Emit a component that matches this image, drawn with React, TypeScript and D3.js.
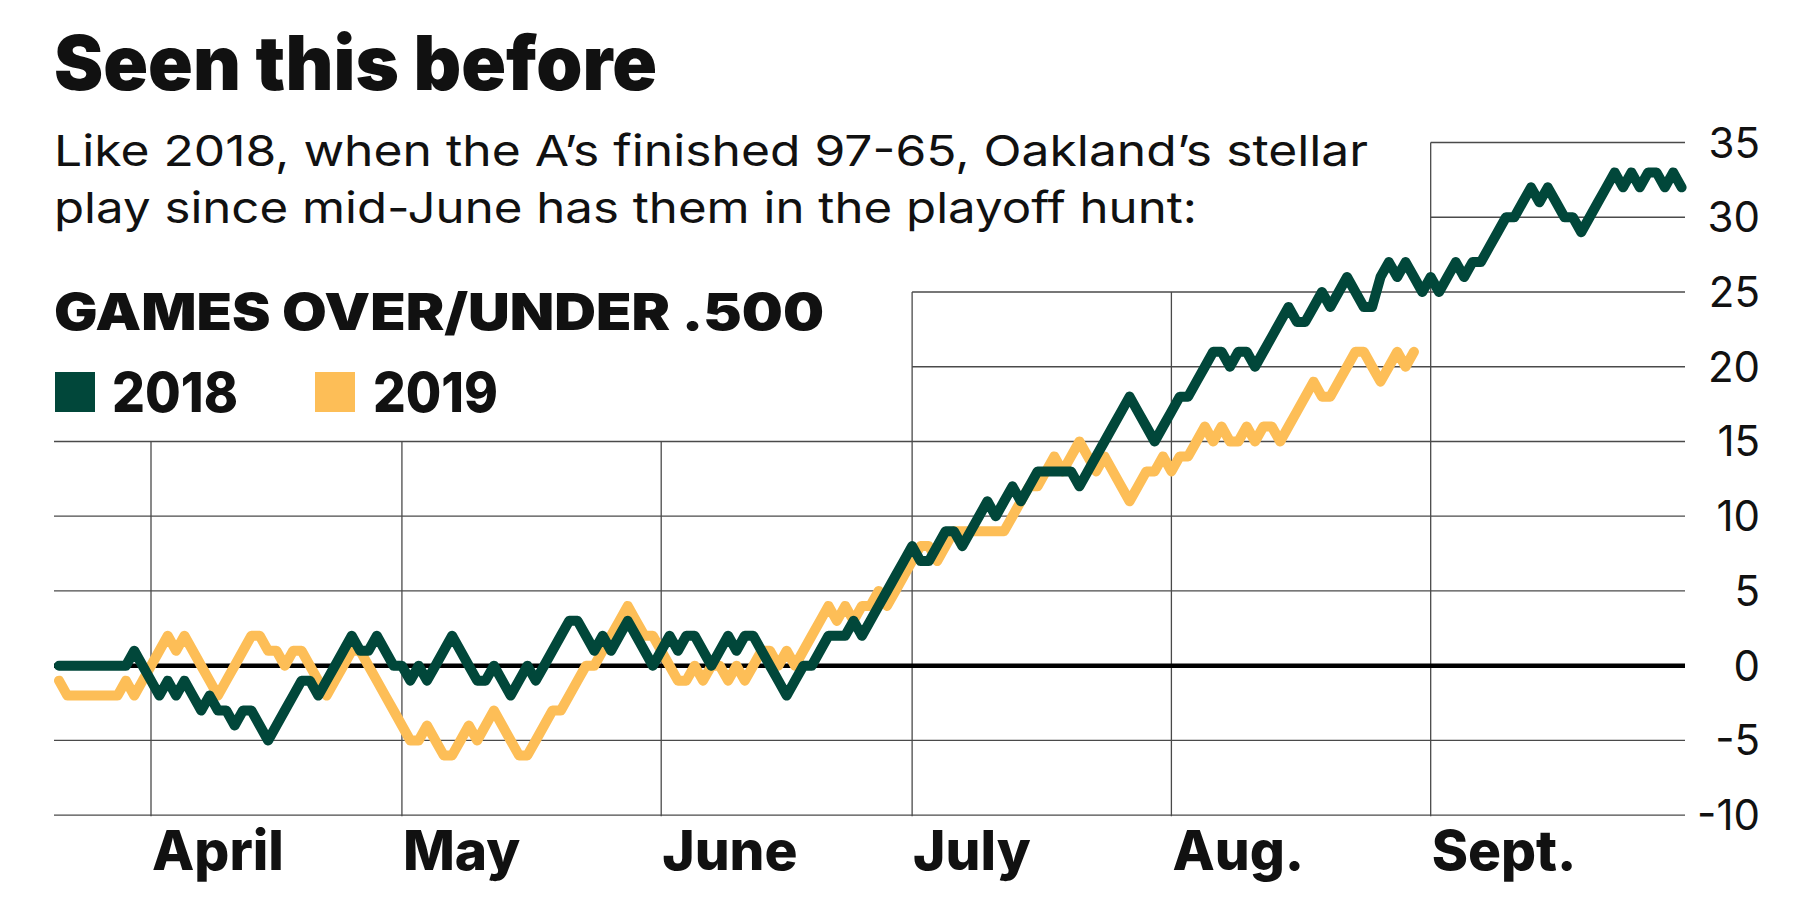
import React from 'react';
import * as d3 from 'd3';

// games over/under .500, one value per calendar day starting at dayZero
const dayZero = new Date(2019, 2, 21);
const dayEnd = new Date(2019, 9, 1);

const games2018 = [
  0, 0, 0, 0, 0, 0, 0, 0, 0, 1,
  0, -1, -2, -1, -2, -1, -2, -3, -2, -3,
  -3, -4, -3, -3, -4, -5, -4, -3, -2, -1,
  -1, -2, -1, 0, 1, 2, 1, 1, 2, 1,
  0, 0, -1, 0, -1, 0, 1, 2, 1, 0,
  -1, -1, 0, -1, -2, -1, 0, -1, 0, 1,
  2, 3, 3, 2, 1, 2, 1, 2, 3, 2,
  1, 0, 1, 2, 1, 2, 2, 1, 0, 1,
  2, 1, 2, 2, 1, 0, -1, -2, -1, 0,
  0, 1, 2, 2, 2, 3, 2, 3, 4, 5,
  6, 7, 8, 7, 7, 8, 9, 9, 8, 9,
  10, 11, 10, 11, 12, 11, 12, 13, 13, 13,
  13, 13, 12, 13, 14, 15, 16, 17, 18, 17,
  16, 15, 16, 17, 18, 18, 19, 20, 21, 21,
  20, 21, 21, 20, 21, 22, 23, 24, 23, 23,
  24, 25, 24, 25, 26, 25, 24, 24, 26, 27,
  26, 27, 26, 25, 26, 25, 26, 27, 26, 27,
  27, 28, 29, 30, 30, 31, 32, 31, 32, 31,
  30, 30, 29, 30, 31, 32, 33, 32, 33, 32,
  33, 33, 32, 33, 32,
];

const games2019 = [
  -1, -2, -2, -2, -2, -2, -2, -2, -1, -2,
  -1, 0, 1, 2, 1, 2, 1, 0, -1, -2,
  -1, 0, 1, 2, 2, 1, 1, 0, 1, 1,
  0, -1, -2, -1, 0, 1, 1, 0, -1, -2,
  -3, -4, -5, -5, -4, -5, -6, -6, -5, -4,
  -5, -4, -3, -4, -5, -6, -6, -5, -4, -3,
  -3, -2, -1, 0, 0, 1, 2, 3, 4, 3,
  2, 2, 1, 0, -1, -1, 0, -1, 0, 0,
  -1, 0, -1, 0, 1, 1, 0, 1, 0, 1,
  2, 3, 4, 3, 4, 3, 4, 4, 5, 4,
  5, 6, 7, 8, 8, 7, 8, 9, 9, 9,
  9, 9, 9, 9, 10, 11, 12, 12, 13, 14,
  13, 14, 15, 14, 13, 14, 13, 12, 11, 12,
  13, 13, 14, 13, 14, 14, 15, 16, 15, 16,
  15, 15, 16, 15, 16, 16, 15, 16, 17, 18,
  19, 18, 18, 19, 20, 21, 21, 20, 19, 20,
  21, 20, 21,
];

const monthLabels = ['April', 'May', 'June', 'July', 'Aug.', 'Sept.'];
const yTicks = [-10, -5, 0, 5, 10, 15, 20, 25, 30, 35];

const GREEN = '#01473a';
const GOLD = '#fdbe57';
const INK = '#111';

export default function App() {
  const x = d3.scaleTime().domain([dayZero, dayEnd]).range([59, 1681.6]);
  const y = d3.scaleLinear().domain([-10, 35]).range([815.2, 142.5]);
  const gridLeft = 54;
  const gridRight = 1685;

  const months = d3.timeMonth.range(new Date(2019, 3, 1), new Date(2019, 9, 1));

  const line = d3
    .line<number>()
    .x((_, i) => x(d3.timeDay.offset(dayZero, i)))
    .y((v) => y(v));

  // grid is cut back around the text block at upper left
  const hStart = (v: number) =>
    v >= 30 ? x(months[5]) : v >= 20 ? x(months[3]) : gridLeft;
  const vTop = (i: number) => (i >= 5 ? y(35) : i >= 3 ? y(25) : y(15));

  return (
    <svg
      width={1800}
      height={900}
      style={{ position: 'absolute', left: 0, top: 0, background: '#fff' }}
    >
      {/* grid */}
      <g stroke="#4a4a4a" strokeWidth={1.3}>
        {yTicks
          .filter((v) => v !== 0)
          .map((v) => (
            <line key={v} x1={hStart(v)} x2={gridRight} y1={y(v)} y2={y(v)} />
          ))}
        {months.map((m, i) => (
          <line key={i} x1={x(m)} x2={x(m)} y1={vTop(i)} y2={y(-10) + 1} />
        ))}
      </g>
      <line
        x1={gridLeft}
        x2={gridRight}
        y1={y(0)}
        y2={y(0)}
        stroke="#000"
        strokeWidth={4.5}
      />

      {/* series */}
      <path
        d={line(games2019) || ''}
        fill="none"
        stroke={GOLD}
        strokeWidth={10}
        strokeLinejoin="round"
        strokeLinecap="round"
      />
      <path
        d={line(games2018) || ''}
        fill="none"
        stroke={GREEN}
        strokeWidth={10}
        strokeLinejoin="round"
        strokeLinecap="round"
      />

      {/* y tick labels */}
      <g fontFamily="Inter, 'Noto Sans', sans-serif" fontSize={42} fill={INK} textAnchor="end">
        {yTicks.map((v) => (
          <text key={v} x={1760} y={y(v) + 15}>
            {v}
          </text>
        ))}
      </g>

      {/* month labels */}
      <g fontFamily="Inter, 'Noto Sans', sans-serif" fontSize={55} fontWeight={800} fill={INK}>
        {months.map((m, i) => (
          <text key={i} x={x(m) + 1} y={870}>
            {monthLabels[i]}
          </text>
        ))}
      </g>

      {/* headline block */}
      <text
        x={54}
        y={90}
        fontFamily="Inter, 'Noto Sans', sans-serif"
        fontSize={76}
        fontWeight={900}
        fill={INK}
        textLength={603}
        lengthAdjust="spacingAndGlyphs"
      >
        Seen this before
      </text>
      <g fontFamily="Inter, 'Noto Sans', sans-serif" fontSize={43} fill={INK}>
        <text x={54} y={166} textLength={1314} lengthAdjust="spacingAndGlyphs">
          Like 2018, when the A’s finished 97-65, Oakland’s stellar
        </text>
        <text x={54} y={223} textLength={1143} lengthAdjust="spacingAndGlyphs">
          play since mid-June has them in the playoff hunt:
        </text>
      </g>
      <text
        x={54}
        y={330}
        fontFamily="Inter, 'Noto Sans', sans-serif"
        fontSize={51}
        fontWeight={900}
        fill={INK}
        textLength={770}
        lengthAdjust="spacingAndGlyphs"
      >
        GAMES OVER/UNDER .500
      </text>

      {/* legend */}
      <rect x={55} y={372} width={40} height={40} fill={GREEN} />
      <rect x={315} y={372} width={40} height={40} fill={GOLD} />
      <g fontFamily="Inter, 'Noto Sans', sans-serif" fontSize={55} fontWeight={800} fill={INK}>
        <text x={112} y={412} textLength={126} lengthAdjust="spacingAndGlyphs">
          2018
        </text>
        <text x={373} y={412} textLength={125} lengthAdjust="spacingAndGlyphs">
          2019
        </text>
      </g>
    </svg>
  );
}
